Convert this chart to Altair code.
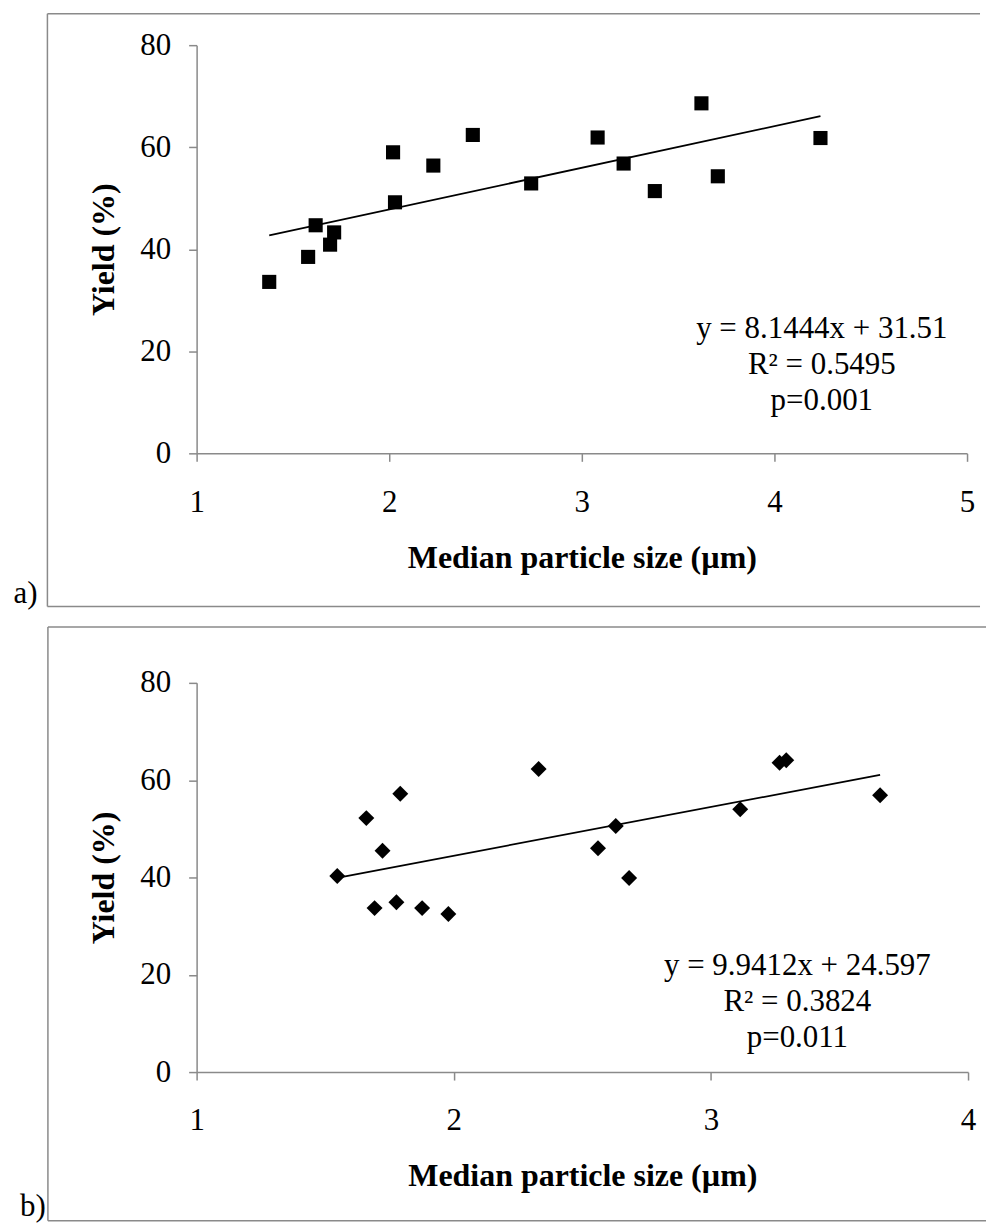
import altair as alt
import pandas as pd

# ---------------- data ----------------
size_a = [1.377, 1.579, 1.693, 1.714, 1.618, 2.030, 2.020, 2.229,
          2.434, 2.737, 3.082, 3.217, 3.379, 3.621, 3.706, 4.239]
yield_a = [33.6, 38.5, 40.9, 43.3, 44.7, 49.2, 59.0, 56.4,
           62.4, 52.9, 61.9, 56.8, 51.4, 68.6, 54.3, 61.8]

size_b = [1.547, 1.660, 1.723, 1.792, 1.692, 1.777, 1.877, 1.979,
          2.330, 2.561, 2.630, 2.682, 3.114, 3.267, 3.293, 3.658]
yield_b = [40.3, 52.2, 45.5, 57.2, 33.7, 34.9, 33.7, 32.5,
           62.3, 46.0, 50.6, 39.9, 54.0, 63.6, 64.1, 56.9]

x_ticks_a = [1, 2, 3, 4, 5]
x_ticks_b = [1, 2, 3, 4]
y_ticks = [0, 20, 40, 60, 80]

eq_a = ["y = 8.1444x + 31.51", "R\u00b2 = 0.5495", "p=0.001"]
eq_b = ["y = 9.9412x + 24.597", "R\u00b2 = 0.3824", "p=0.011"]

x_title = "Median particle size (\u00b5m)"
y_title = "Yield (%)"

FONT = "Liberation Serif"
GRAY = "#8a8a8a"


def panel(xs, ys, xticks, shape, msize, w, h, frame, label, label_pos, eq, eq_pos):
    df = pd.DataFrame({"size": xs, "yld": ys})
    base = alt.Chart(df)
    xenc = alt.X(
        "size:Q",
        scale=alt.Scale(domain=[xticks[0], xticks[-1]], nice=False, zero=False),
        axis=alt.Axis(values=xticks, title=x_title, titleY=114,
                      titleBaseline="alphabetic", format="d"),
    )
    yenc = alt.Y(
        "yld:Q",
        scale=alt.Scale(domain=[0, 80], nice=False, zero=False),
        axis=alt.Axis(values=y_ticks, title=y_title, titleX=-83.5,
                      titleBaseline="alphabetic", format="d"),
    )
    pts = base.mark_point(shape=shape, filled=True, size=msize,
                          color="black", opacity=1).encode(x=xenc, y=yenc)
    fit = base.transform_regression("size", "yld").mark_line(
        color="black", strokeWidth=1.8).encode(x=xenc, y=yenc)

    one = alt.Data(values=[{"k": 0}])
    left, top, right, bottom = frame
    frm = [
        alt.Chart(one).mark_rule(color=GRAY, strokeWidth=1.5).encode(
            x=alt.value(left), x2=alt.value(right), y=alt.value(top)),
        alt.Chart(one).mark_rule(color=GRAY, strokeWidth=1.5).encode(
            x=alt.value(left), x2=alt.value(right), y=alt.value(bottom)),
        alt.Chart(one).mark_rule(color=GRAY, strokeWidth=1.5).encode(
            x=alt.value(left), y=alt.value(top), y2=alt.value(bottom)),
    ]
    lab = alt.Chart(one).mark_text(
        text=label, font=FONT, fontSize=31, align="left",
        baseline="alphabetic", color="black").encode(
        x=alt.value(label_pos[0]), y=alt.value(label_pos[1]))
    eqs = [
        alt.Chart(one).mark_text(
            text=t, font=FONT, fontSize=31, align="center",
            baseline="alphabetic", color="black").encode(
            x=alt.value(eq_pos[0]), y=alt.value(eq_pos[1] + i * 36))
        for i, t in enumerate(eq)
    ]
    return alt.layer(*frm, fit, pts, lab, *eqs).properties(width=w, height=h)


pa = panel(size_a, yield_a, x_ticks_a, "square", 200, 772, 409,
           (-149.5, -31.5, 785, 562.5), "a)", (-183.5, 558.5),
           eq_a, (626.5, 293.5))
pb = panel(size_b, yield_b, x_ticks_b, "diamond", 256, 773, 390,
           (-149, -56, 791, 539), "b)", (-177, 534),
           eq_b, (602, 292.7))

chart = alt.vconcat(pa, pb, spacing=17).properties(
    padding={"left": 5, "top": 3, "right": 0, "bottom": 0}
).configure_view(strokeWidth=0).configure_axis(
    labelFont=FONT, labelFontSize=31, labelColor="black",
    titleFont=FONT, titleFontSize=32, titleFontWeight="bold", titleColor="black",
    domainColor=GRAY, domainWidth=1.5, tickColor=GRAY, tickWidth=1.5,
    tickSize=8, grid=False, labelFlush=False, labelOverlap=False,
).configure_axisX(labelPadding=26).configure_axisY(labelPadding=18)

chart.save("out.html", embed_options={"renderer": "svg", "actions": False})
